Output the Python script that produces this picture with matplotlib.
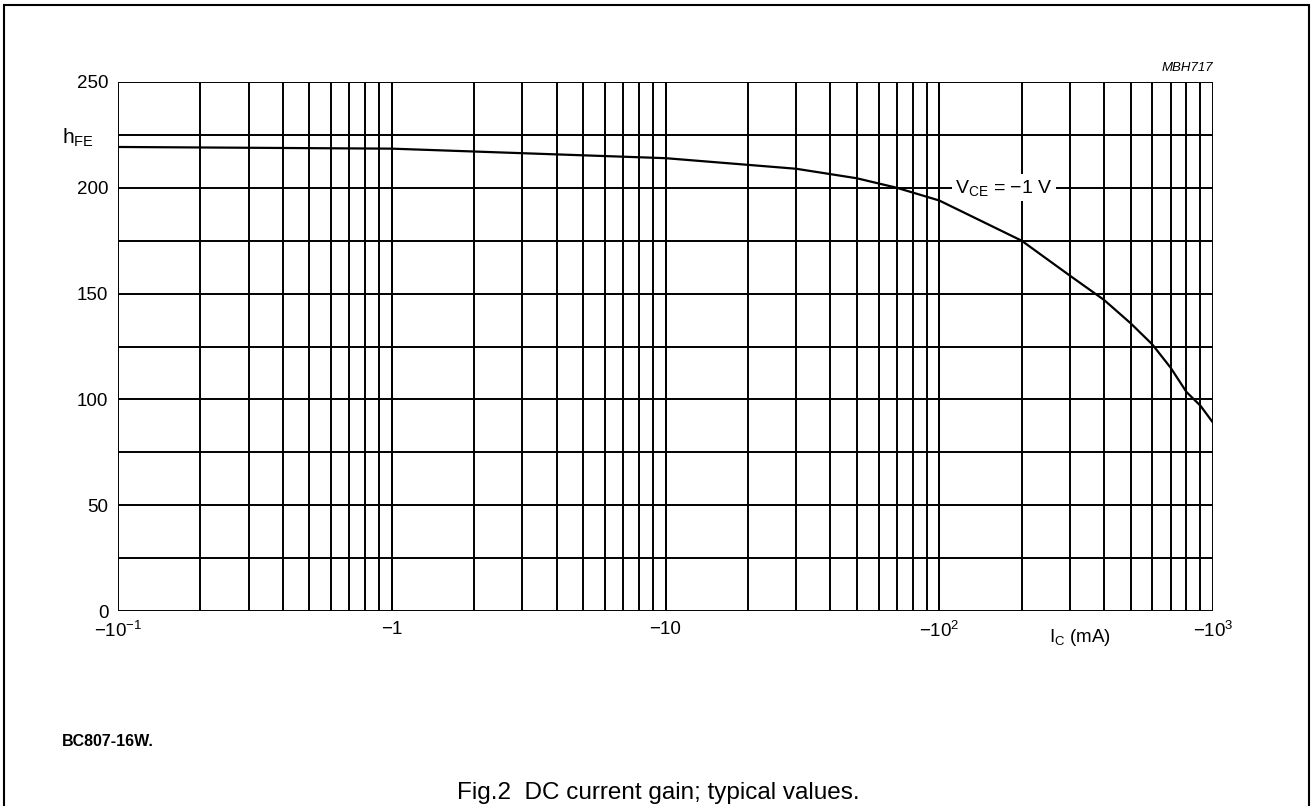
import numpy as np
import matplotlib
matplotlib.use("Agg")
import matplotlib.pyplot as plt
from matplotlib.patches import Rectangle

plt.rcParams["font.family"] = ["Liberation Sans", "DejaVu Sans"]
plt.rcParams["mathtext.fontset"] = "custom"
plt.rcParams["mathtext.rm"] = "Liberation Sans"
plt.rcParams["mathtext.it"] = "Liberation Sans:italic"

# ── Data ─────────────────────────────────────────────────────────────────────
IC_MA = [0.1, 1, 10, 30, 50, 70, 100, 200, 300, 400, 500, 600, 700, 800, 900, 1000]
HFE   = [219.3, 218.5, 214, 209, 204.5, 200, 194, 175, 158.5, 147, 136, 126, 115, 103.5, 97, 89]

X_TICKS  = [0.1, 1, 10, 100, 1000]
X_LABELS = ["\u221210$^{\u22121}$", "\u22121", "\u221210", "\u221210$^{2}$", "\u221210$^{3}$"]
Y_TICKS  = [0, 50, 100, 150, 200, 250]

W, H = 1314, 806
fig = plt.figure(figsize=(W / 100, H / 100), dpi=100)
ax = fig.add_axes([118 / W, 1 - 611 / H, (1213 - 118) / W, (611 - 82) / H])

# grid: every 25 on y, 1..9 per decade on x
for y in np.arange(0, 251, 25):
    ax.axhline(y, color="black", lw=1.4, zorder=1)
for dec in [0.1, 1, 10, 100]:
    for m in range(1, 11):
        ax.axvline(dec * m, color="black", lw=1.4, zorder=1)

ax.plot(IC_MA, HFE, color="black", lw=1.6, zorder=3)

ax.set_xscale("log")
ax.set_xlim(0.1, 1000)
ax.set_ylim(0, 250)
ax.set_xticks(X_TICKS)
ax.set_xticklabels(X_LABELS)
ax.xaxis.set_minor_locator(matplotlib.ticker.NullLocator())
ax.set_yticks(Y_TICKS)
ax.tick_params(length=0, labelsize=13.5)
ax.tick_params(axis="y", pad=7)
ax.tick_params(axis="x", pad=7)
for s in ax.spines.values():
    s.set_visible(False)

ax.text(172, 200, "V$_{\\mathrm{CE}}$ = \u22121 V", fontsize=14, ha="center", va="center",
        bbox=dict(facecolor="white", edgecolor="none", pad=2.5), zorder=4)

fig.text(62 / W, 1 - 138 / H, "h$_{\\mathrm{FE}}$", fontsize=15, ha="left", va="center")
fig.text(1080 / W, 1 - 637 / H, "I$_{\\mathrm{C}}$ (mA)", fontsize=13.5, ha="center", va="center")
fig.text(1213 / W, 1 - 68 / H, "MBH717", fontsize=9.5, style="italic", ha="right", va="center")
fig.text(62 / W, 1 - 741 / H, "BC807-16W.", fontsize=11.5, fontweight="bold", ha="left", va="center")
fig.text(658 / W, 1 - 793 / H, "Fig.2  DC current gain; typical values.", fontsize=17.5,
         ha="center", va="center")

# outer frame around the whole figure
fig.patches.append(Rectangle((4 / W, -0.02), (1309 - 4) / W, 1 - 5 / H + 0.02,
                             transform=fig.transFigure, fill=False, edgecolor="black", lw=1.5))

fig.savefig("out.png", dpi=100)
